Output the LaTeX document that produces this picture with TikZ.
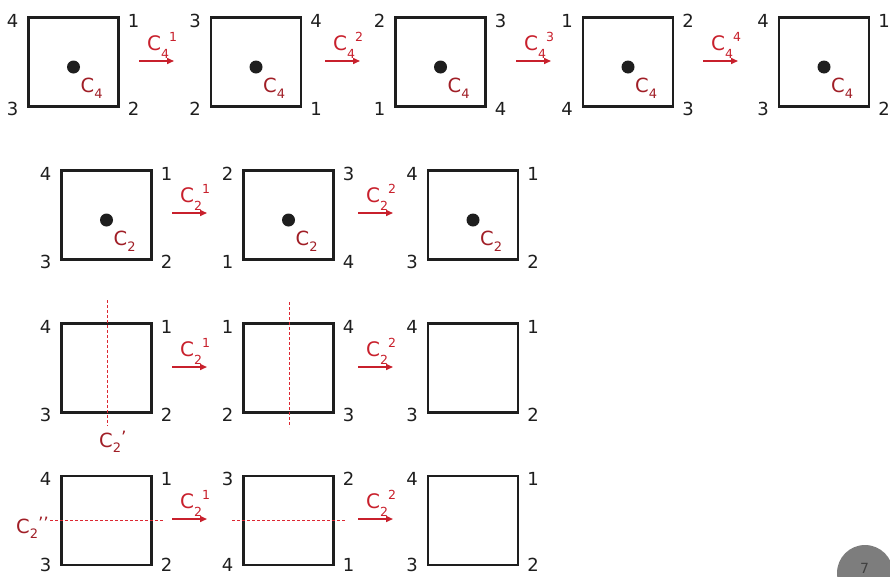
\documentclass[tikz,border=0pt]{standalone}
\usepackage{fontspec}
\setmainfont{DejaVu Sans}
\usetikzlibrary{arrows.meta,calc}
\definecolor{redA}{RGB}{200,32,44}
\definecolor{redB}{RGB}{160,30,38}
\definecolor{redC}{RGB}{220,40,50}
\definecolor{pgray}{RGB}{125,125,125}
\definecolor{ink}{RGB}{30,30,30}
\newcommand{\fs}[1]{\fontsize{#1}{#1}\selectfont}
% arrow label: C_sub^sup
\newcommand{\ArrLab}[2]{{\fs{20}C}\raisebox{-8pt}{\fs{12.5}#1}\raisebox{9pt}{\fs{12.5}#2}}
% inner label
\newcommand{\InLab}[1]{{\fs{19.5}C}\raisebox{-6pt}{\fs{13}#1}}
% square with corner labels: name, cx, cy, tl, tr, bl, br
\newcommand{\mysq}[7]{%
  \node[sqbox] (#1) at (#2,#3) {};
  \node[corner] (#1tl) at ([shift={(-16,3)}]#1.north west) {#4};
  \node[corner] (#1tr) at ([shift={(15,3)}]#1.north east) {#5};
  \node[corner] (#1bl) at ([shift={(-16,\bshift)}]#1.south west) {#6};
  \node[corner] (#1br) at ([shift={(15,\bshift)}]#1.south east) {#7};
}
\newcommand{\bshift}{2}
% dot + inner label: name, square, sub
\newcommand{\mydot}[3]{%
  \node[dotnode] (#1) at ([shift={(0,5)}]#2.center) {};
  \node[inlab] (#1l) at ([shift={(7,25)}]#1.center) {\InLab{#3}};
}
% arrow: name, x start, y, sub, sup
\newcommand{\myarr}[5]{%
  \coordinate (#1s) at (#2,#3);
  \coordinate (#1e) at ($(#1s)+(35,0)$);
  \draw[arr] (#1s) -- (#1e);
  \node[arrlab] (#1l) at ($(#1s)+(8,-11)$) {\ArrLab{#4}{#5}};
}
\begin{document}
\begin{tikzpicture}[x=1pt,y=-1pt,
  sqbox/.style={draw=ink,line width=2.4pt,minimum width=90pt,minimum height=89pt,inner sep=0pt,outer sep=0pt},
  corner/.style={text=ink,font=\fs{18},inner sep=0pt},
  dotnode/.style={circle,fill=ink,minimum size=13pt,inner sep=0pt},
  inlab/.style={text=redB,anchor=base west,inner sep=0pt},
  arrlab/.style={text=redA,anchor=base west,inner sep=0pt},
  arr/.style={draw=redA,line width=1.5pt,-{Triangle[length=7pt,width=6pt]}},
  dashln/.style={draw=redC,line width=1.1pt,dash pattern=on 3pt off 2pt}]
\useasboundingbox (0,0) rectangle (890,576);
% ---- row 1
\mysq{a1}{73.5}{62}{4}{1}{3}{2}
\mysq{a2}{256}{62}{3}{4}{2}{1}
\mysq{a3}{440.5}{62}{2}{3}{1}{4}
\mysq{a4}{628}{62}{1}{2}{4}{3}
\mysq{a5}{824}{62}{4}{1}{3}{2}
\mydot{d1}{a1}{4}
\mydot{d2}{a2}{4}
\mydot{d3}{a3}{4}
\mydot{d4}{a4}{4}
\mydot{d5}{a5}{4}
\myarr{r1a}{139}{61}{4}{1}
\myarr{r1b}{325}{61}{4}{2}
\myarr{r1c}{516}{61}{4}{3}
\myarr{r1d}{703}{61}{4}{4}
% ---- row 2
\mysq{b1}{106.5}{215}{4}{1}{3}{2}
\mysq{b2}{288.5}{215}{2}{3}{1}{4}
\mysq{b3}{473}{215}{4}{1}{3}{2}
\mydot{e1}{b1}{2}
\mydot{e2}{b2}{2}
\mydot{e3}{b3}{2}
\myarr{r2a}{172}{213}{2}{1}
\myarr{r2b}{358}{213}{2}{2}
% ---- row 3
\mysq{c1}{106.5}{368}{4}{1}{3}{2}
\mysq{c2}{288.5}{368}{1}{4}{2}{3}
\mysq{c3}{473}{368}{4}{1}{3}{2}
\coordinate (v1t) at (107.5,300);
\coordinate (v1b) at (107.5,426);
\draw[dashln] (v1t) -- (v1b);
\coordinate (v2t) at (289.5,302);
\coordinate (v2b) at (289.5,427);
\draw[dashln] (v2t) -- (v2b);
\node[inlab] (c2p) at (99,447) {{\fs{19.5}C}\raisebox{-5pt}{\fs{13}2}\raisebox{4pt}{\fs{17}’}};
\myarr{r3a}{172}{367}{2}{1}
\myarr{r3b}{358}{367}{2}{2}
% ---- row 4
\renewcommand{\bshift}{0}
\mysq{f1}{106.5}{520.5}{4}{1}{3}{2}
\mysq{f2}{288.5}{520.5}{3}{2}{4}{1}
\mysq{f3}{473}{520.5}{4}{1}{3}{2}
\coordinate (h1l) at (50,520.5);
\coordinate (h1r) at (163,520.5);
\draw[dashln] (h1l) -- (h1r);
\coordinate (h2l) at (232,520.5);
\coordinate (h2r) at (346,520.5);
\draw[dashln] (h2l) -- (h2r);
\node[inlab] (c2pp) at (16,533) {{\fs{19.5}C}\raisebox{-5pt}{\fs{13}2}\raisebox{4pt}{\fs{17}’’}};
\myarr{r4a}{172}{519}{2}{1}
\myarr{r4b}{358}{519}{2}{2}
% ---- page number
\node[circle,fill=pgray,minimum size=56pt,inner sep=0pt] (pg) at (865,573) {};
\node[text=ink!85,font=\fs{14},anchor=base,inner sep=0pt] (pgn) at (864.5,573) {7};
\end{tikzpicture}
\end{document}
